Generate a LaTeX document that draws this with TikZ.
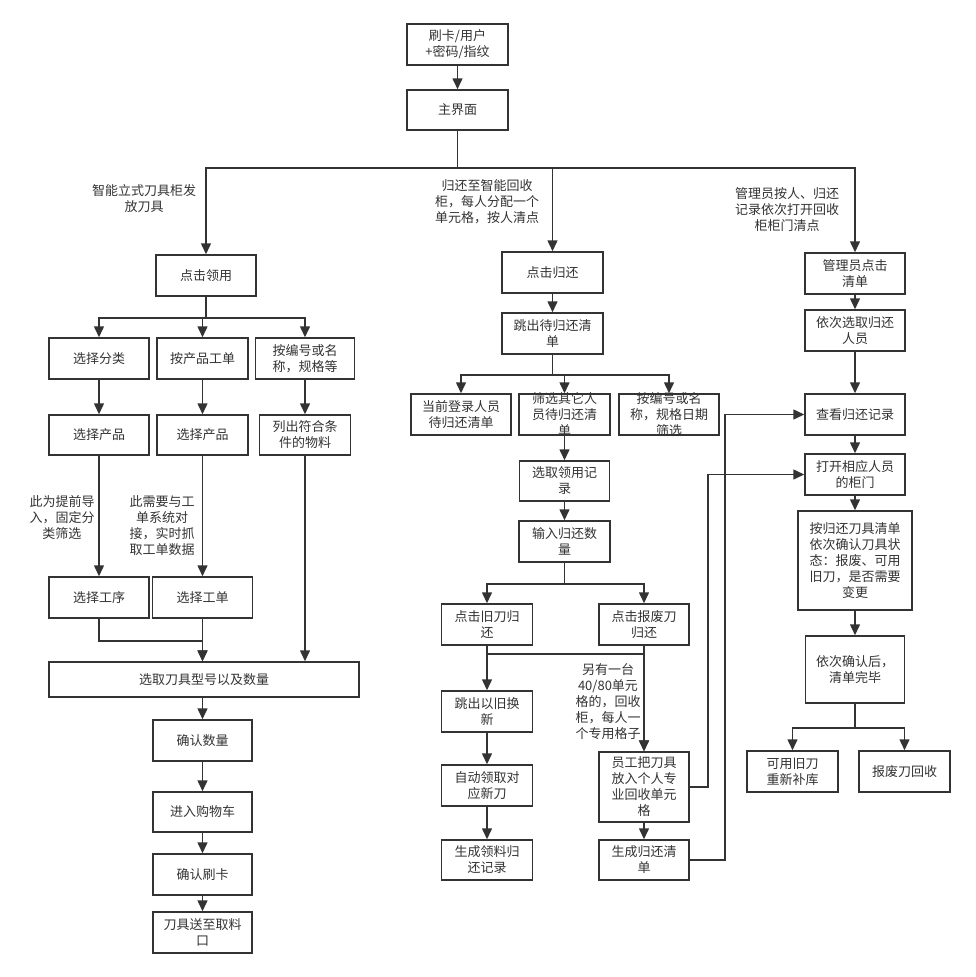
\documentclass[tikz,border=0pt]{standalone}
\usepackage{fontspec}
\newfontfamily\cjk{Noto Sans CJK SC}
\usetikzlibrary{arrows.meta}
\definecolor{ink}{HTML}{333333}

\begin{document}
\begin{tikzpicture}[x=1pt,y=-1pt,
    box/.style={draw=ink,line width=1.5pt,text=ink,font=\cjk\fontsize{13}{16}\selectfont,align=center,inner sep=0pt,minimum height=41pt},
    note/.style={text=ink,font=\cjk\fontsize{13}{16}\selectfont,align=center,inner sep=0pt},
    link/.style={draw=ink,line width=1.5pt,-{Triangle[length=11pt,width=10pt]}}]
                \fill[white] (0,0) rectangle (975,977);
                \useasboundingbox (0,0) rectangle (975,977);

                \node[box,minimum width=101pt] (card) at (457.5,44.5) {刷卡/用户\\+密码/指纹};
                \node[box,minimum width=101pt,minimum height=40pt] (main) at (457.5,110) {主界面};

                \node[box,minimum width=100pt] (take) at (206,275.5) {点击领用};
                \node[box,minimum width=100pt] (cat) at (99,358.5) {选择分类};
                \node[box,minimum width=91pt] (order) at (202.5,358.5) {按产品工单};
                \node[box,minimum width=99pt] (code) at (305,358.5) {按编号或名\\称，规格等};
                \node[box,minimum width=100pt,minimum height=40pt] (prodA) at (99,435) {选择产品};
                \node[box,minimum width=91pt,minimum height=40pt] (prodB) at (202.5,435) {选择产品};
                \node[box,minimum width=91pt,minimum height=40pt] (list) at (305,435) {列出符合条\\件的物料};
                \node[box,minimum width=100pt] (proc) at (99,597.5) {选择工序};
                \node[box,minimum width=100pt] (wo) at (202.5,597.5) {选择工单};
                \node[box,minimum width=310pt,minimum height=35pt] (pick) at (204,679.5) {选取刀具型号以及数量};
                \node[box,minimum width=99pt] (qty) at (202.5,740.5) {确认数量};
                \node[box,minimum width=99pt,minimum height=40pt] (cart) at (202.5,812) {进入购物车};
                \node[box,minimum width=99pt] (swipe) at (202.5,874.5) {确认刷卡};
                \node[box,minimum width=99pt] (out) at (202.5,932.5) {刀具送至取料\\口};

                \node[box,minimum width=101pt] (ret) at (552.5,272.5) {点击归还};
                \node[box,minimum width=101pt] (pend) at (552.5,333.5) {跳出待归还清\\单};
                \node[box,minimum width=100pt] (mine) at (461,414.5) {当前登录人员\\待归还清单};
                \node[box] (other) at (564.5,414.5) {\parbox[c][41pt][c]{91pt}{\centering 筛选其它人\\员待归还清\\单}};
                \node[box] (filt) at (669,414.5) {\parbox[c][41pt][c]{100pt}{\centering 按编号或名\\称，规格日期\\筛选}};
                \node[box,minimum width=90pt,minimum height=40pt] (rec) at (564.5,481) {选取领用记\\录};
                \node[box,minimum width=91pt] (num) at (564.5,541.5) {输入归还数\\量};
                \node[box,minimum width=91pt] (old) at (487,624.5) {点击旧刀归\\还};
                \node[box,minimum width=90pt] (scrap) at (644,624.5) {点击报废刀\\归还};
                \node[box,minimum width=91pt] (swap) at (487,711.5) {跳出以旧换\\新};
                \node[box,minimum width=91pt] (auto) at (487,785.5) {自动领取对\\应新刀};
                \node[box,minimum width=91pt,minimum height=40pt] (gen) at (487,860) {生成领料归\\还记录};
                \node[box,minimum width=90pt,minimum height=70pt] (put) at (644,787) {员工把刀具\\放入个人专\\业回收单元\\格};
                \node[box,minimum width=90pt,minimum height=40pt] (glist) at (644,860) {生成归还清\\单};

                \node[box,minimum width=100pt] (adm) at (855,273.5) {管理员点击\\清单};
                \node[box,minimum width=100pt] (sel) at (855,330.5) {依次选取归还\\人员};
                \node[box,minimum width=100pt] (view) at (855,414.5) {查看归还记录};
                \node[box,minimum width=100pt] (open) at (855,474.5) {打开相应人员\\的柜门};
                \node[box,minimum width=114pt,minimum height=99pt] (check) at (855,560.5) {按归还刀具清单\\依次确认刀具状\\态：报废、可用\\旧刀，是否需要\\变更};
                \node[box,minimum width=99pt,minimum height=67pt] (done) at (855,669.5) {依次确认后，\\清单完毕};
                \node[box,minimum width=91pt] (reuse) at (792.5,771.5) {可用旧刀\\重新补库};
                \node[box,minimum width=91pt] (junk) at (904.5,771.5) {报废刀回收};

                \node[note] (lblA) at (144,199) {智能立式刀具柜发\\放刀具};
                \node[note] (lblB) at (487,202) {归还至智能回收\\柜，每人分配一个\\单元格，按人清点};
                \node[note] (lblC) at (787,210) {管理员按人、归还\\记录依次打开回收\\柜柜门清点};
                \node[note] (lblD) at (62,518) {此为提前导\\入，固定分\\类筛选};
                \node[note] (lblE) at (162,525.5) {此需要与工\\单系统对\\接，实时抓\\取工单数据};
                \node[note] (lblF) at (608,702) {另有一台\\40/80单元\\格的，回收\\柜，每人一\\个专用格子};

                \coordinate (split) at (457.5,168);
                \draw[link] (main.south) -- (split) -| (take.north);
                \draw[link] (main.south) -- (split) -| (ret.north);
                \draw[link] (main.south) -- (split) -| (adm.north);

                \foreach \a/\b in {card/main,cat/prodA,order/prodB,code/list,prodA/proc,prodB/wo,qty/cart,cart/swipe,swipe/out,
                    ret/pend,other/rec,rec/num,old/swap,swap/auto,auto/gen,scrap/put,put/glist,
                    adm/sel,sel/view,view/open,open/check,check/done} {
                    \draw[link] (\a.south) -- (\b.north);
                }

                \foreach \b in {cat,order,code} {
                    \draw[link] (take.south) -- ++(0,21) -| (\b.north);
                }
                \foreach \b in {mine,other,filt} {
                    \draw[link] (pend.south) -- ++(0,20) -| (\b.north);
                }
                \foreach \b in {old,scrap} {
                    \draw[link] (num.south) -- ++(0,21) -| (\b.north);
                }
                \foreach \b in {reuse,junk} {
                    \draw[link] (done.south) -- ++(0,24) -| (\b.north);
                }

                \draw[link] (proc.south) -- ++(0,22) -| (pick.north -| wo.south);
                \draw[link] (wo.south) -- (pick.north -| wo.south);
                \draw[link] (list.south) -- (pick.north -| list.south);
                \draw[link] (pick.south -| qty.north) -- (qty.north);

                \draw[link] (old.south) -- ++(0,8) -| (put.north);
                \draw[link] (put.east) -- ++(18,0) |- (open.west);
                \draw[link] (glist.east) -- ++(35,0) |- (view.west);

            \end{tikzpicture}
\end{document}
